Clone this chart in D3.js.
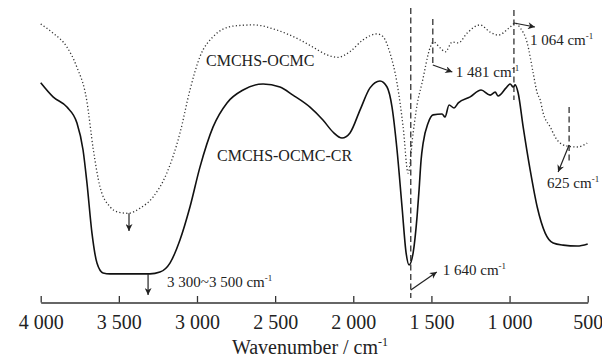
<!DOCTYPE html>
<html>
<head>
<meta charset="utf-8">
<script src="https://cdn.jsdelivr.net/npm/d3@7"></script>
<style>
  body { margin: 0; background: #fff; }
</style>
</head>
<body>
<svg id="chart" width="602" height="363"></svg>
<script>
// CMCHS-OCMC (dotted)
const wnOcmc = [4000, 3921, 3832, 3770, 3706, 3663, 3621, 3557, 3505, 3440, 3365, 3280, 3194, 3109, 3045, 2981,
  2896, 2768, 2640, 2490, 2341, 2258, 2168, 2098, 2021, 1938, 1848, 1810, 1765, 1720, 1681, 1649, 1617, 1592,
  1560, 1507, 1488, 1443, 1411, 1366, 1328, 1271, 1188, 1124, 1073, 996, 964, 932, 887, 849, 823, 804, 785,
  740, 695, 631, 567, 503];
const tOcmc = [92.0, 89.0, 84.3, 77.8, 66.7, 50.0, 37.8, 31.1, 29.3, 28.9, 30.6, 34.4, 42.2, 55.6, 70.0, 81.1,
  87.8, 91.3, 91.7, 90.0, 86.7, 84.3, 81.7, 80.9, 82.8, 86.7, 88.7, 87.8, 82.3, 72.3, 57.7, 42.3, 55.7, 65.0,
  72.3, 84.3, 86.0, 84.0, 82.7, 86.0, 85.7, 89.0, 91.7, 89.3, 88.3, 91.0, 92.3, 90.7, 85.7, 75.7, 69.0, 66.7, 62.3,
  57.7, 53.3, 51.3, 51.0, 52.3];

// CMCHS-OCMC-CR (solid)
const wnCr = [4000, 3921, 3832, 3768, 3729, 3704, 3672, 3640, 3601, 3557, 3301, 3237, 3173, 3109, 3045, 2981,
  2897, 2808, 2705, 2577, 2469, 2386, 2277, 2194, 2130, 2072, 2021, 1957, 1893, 1829, 1784, 1752, 1720, 1688,
  1662, 1643, 1617, 1592, 1579, 1566, 1553, 1521, 1489, 1432, 1413, 1387, 1355, 1328, 1252, 1182, 1124, 1092,
  1073, 1022, 996, 977, 964, 945, 913, 868, 823, 772, 721, 657, 567, 500];
const tCr = [72.4, 67.7, 64.3, 59.0, 50.0, 39.0, 22.3, 12.3, 9.0, 8.7, 8.7, 9.3, 12.3, 20.0, 31.0, 44.3,
  57.7, 65.7, 70.0, 72.0, 71.0, 68.3, 64.3, 60.0, 56.0, 54.0, 55.7, 63.3, 70.7, 73.0, 71.0, 64.3, 50.0, 31.0,
  15.7, 11.7, 15.7, 27.7, 36.7, 46.7, 52.3, 59.0, 61.7, 62.0, 61.0, 65.0, 64.0, 65.7, 67.7, 70.0, 68.3, 69.3,
  68.0, 70.7, 72.0, 71.0, 71.7, 69.0, 57.7, 43.3, 31.0, 22.3, 19.0, 18.3, 18.0, 18.7];

const xTicks = [4000, 3500, 3000, 2500, 2000, 1500, 1000, 500];
const xTickLabels = ["4 000", "3 500", "3 000", "2 500", "2 000", "1 500", "1 000", "500"];

// marked peaks: position, text as printed
const peakWn = [1632, 1491, 972, 619];
const peakLabels = ["1 640", "1 481", "1 064", "625"];
const bandWn = [3313, 3435];
const bandLabel = "3 300~3 500";

const serif = '"Liberation Serif"';
const svg = d3.select("#chart");
const x = d3.scaleLinear().domain([4000, 500]).range([40.7, 587.7]);
const y = d3.scaleLinear().domain([0, 100]).range([300, 0]);
const axisY = 302.5;

const defs = svg.append("defs");
defs.append("marker")
  .attr("id", "arrow")
  .attr("viewBox", "0 0 10 10")
  .attr("refX", 10).attr("refY", 5)
  .attr("markerWidth", 9).attr("markerHeight", 7)
  .attr("markerUnits", "userSpaceOnUse")
  .attr("orient", "auto")
  .append("path").attr("d", "M0,0 L10,5 L0,10 L3,5 Z").attr("fill", "#222");

const line = d3.line().x(d => x(d[0])).y(d => y(d[1])).curve(d3.curveMonotoneX);

// spectra
svg.append("path")
  .datum(d3.zip(wnOcmc, tOcmc))
  .attr("d", line)
  .attr("fill", "none")
  .attr("stroke", "#333")
  .attr("stroke-width", 1.3)
  .attr("stroke-dasharray", "1.2 2.3");

svg.append("path")
  .datum(d3.zip(wnCr, tCr))
  .attr("d", line)
  .attr("fill", "none")
  .attr("stroke", "#111")
  .attr("stroke-width", 1.6);

// x axis
const axis = d3.axisBottom(x)
  .tickValues(xTicks)
  .tickSize(-6.5)
  .tickSizeOuter(0)
  .tickPadding(12)
  .tickFormat((d, i) => xTickLabels[i]);
const gx = svg.append("g").attr("transform", `translate(0,${axisY})`).call(axis);
gx.select(".domain").attr("stroke", "#333").attr("stroke-width", 1.4);
gx.selectAll(".tick line").attr("stroke", "#333").attr("stroke-width", 1.3);
gx.selectAll(".tick text")
  .style("font-family", serif)
  .style("font-size", "20px").attr("fill", "#222");

function labelWithUnit(px, py, txt, size, anchor) {
  const t = svg.append("text")
    .attr("x", px).attr("y", py)
    .style("font-family", serif)
    .style("font-size", size + "px")
    .attr("fill", "#222")
    .attr("text-anchor", anchor || "start");
  t.append("tspan").text(txt + " cm");
  t.append("tspan").attr("dy", -size * 0.38).style("font-size", (size * 0.6) + "px").text("-1");
  return t;
}

svg.append("text").attr("x", 206).attr("y", 65.5).attr("fill", "#222")
  .style("font-family", serif).style("font-size", "16px").text("CMCHS-OCMC");
svg.append("text").attr("x", 217).attr("y", 160.5).attr("fill", "#222")
  .style("font-family", serif).style("font-size", "16px").text("CMCHS-OCMC-CR");

// axis title
labelWithUnit(310, 354, "Wavenumber /", 20, "middle");

const dash = "6 3.5";
function dashed(px, y0, y1) {
  svg.append("line")
    .attr("x1", px).attr("x2", px).attr("y1", y0).attr("y2", y1)
    .attr("stroke", "#222").attr("stroke-width", 1.2).attr("stroke-dasharray", dash);
}
function arrow(x1, y1, x2, y2) {
  svg.append("line")
    .attr("x1", x1).attr("y1", y1).attr("x2", x2).attr("y2", y2)
    .attr("stroke", "#222").attr("stroke-width", 1.2)
    .attr("marker-end", "url(#arrow)");
}

// 1 640
let px = x(peakWn[0]);
dashed(px, 8, 298);
arrow(px, 290, px + 26, 272);
labelWithUnit(px + 32, 275, peakLabels[0], 15);

// 1 481
px = x(peakWn[1]);
dashed(px, 19, 65);
arrow(px, 65, px + 19.5, 72);
labelWithUnit(px + 23, 77, peakLabels[1], 15);

// 1 064
px = x(peakWn[2]);
dashed(px, 10, 100);
arrow(px, 23, px + 21, 27);
labelWithUnit(px + 16, 45, peakLabels[2], 15);

// 625
px = x(peakWn[3]);
dashed(px, 107, 163);
arrow(px, 145, px - 11, 172);
labelWithUnit(px - 22, 188, peakLabels[3], 15);

// 3 300~3 500
px = x(bandWn[0]);
arrow(px, y(8.7), px, 295);
labelWithUnit(px + 19, 287, bandLabel, 15);
px = x(bandWn[1]);
arrow(px, y(28.9), px, 231);
</script>
</body>
</html>
